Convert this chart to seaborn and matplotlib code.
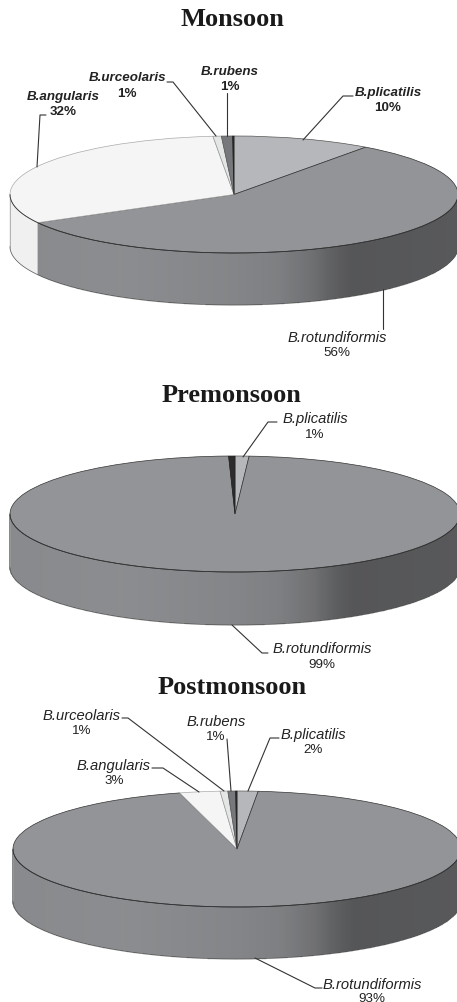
import numpy as np
import matplotlib
matplotlib.use("Agg")
import matplotlib.pyplot as plt
import seaborn as sns

sns.set_theme(style="white")
plt.rcParams["font.family"] = ["Liberation Sans", "DejaVu Sans"]

W, H = 457, 1003

# ---- data ----
seasons = ["Monsoon", "Premonsoon", "Postmonsoon"]
species = ["B.plicatilis", "B.rotundiformis", "B.angularis", "B.urceolaris", "B.rubens", "other"]
monsoon_values = [10, 57, 31.5, 0.6, 0.8, 0.1]
premonsoon_values = [1, 98.55, 0, 0, 0, 0.45]
postmonsoon_values = [1.5, 93.9, 2.9, 0.55, 0.55, 0.1]
monsoon_labels = ["10%", "56%", "32%", "1%", "1%", None]
premonsoon_labels = ["1%", "99%", None, None, None, None]
postmonsoon_labels = ["2%", "93%", "3%", "1%", "1%", None]

# ---- styles ----
slice_colors = ["#b6b7ba", "#939497", "#f5f5f5", "#e4e5e5", "#77787b", "#2c2c2e"]
edge_colors = ["#555555", "#333333", "#aaaaaa", "#999999", "#555555", "#222222"]
shade_pos = [-1, -0.5, 0, 0.2, 0.35, 0.45, 0.53, 1]
shade_val = [0.93, 0.95, 0.90, 0.86, 0.76, 0.64, 0.58, 0.60]

# ---- layout (pixels) ----
geometry = {  # cx, cy, rx, ry, depth
    "Monsoon": (234, 195.5, 224, 58.5, 52),
    "Premonsoon": (235, 515, 225, 58, 53),
    "Postmonsoon": (237, 850, 224, 58, 52),
}
title_pos = {"Monsoon": (232, 19), "Premonsoon": (232, 395), "Postmonsoon": (232, 688)}
leaders = {
    "Monsoon": {
        "B.plicatilis": [(303, 141), (343, 97), (353, 97)],
        "B.rubens": [(227, 137), (227, 94)],
        "B.urceolaris": [(216, 137), (173, 83), (167, 83)],
        "B.angularis": [(37, 168), (40, 116), (46, 116)],
        "B.rotundiformis": [(383, 290), (383, 330)],
    },
    "Premonsoon": {
        "B.plicatilis": [(243, 458), (268, 423), (277, 423)],
        "B.rotundiformis": [(232, 626), (262, 654), (268, 654)],
    },
    "Postmonsoon": {
        "B.urceolaris": [(224, 792), (128, 719), (122, 719)],
        "B.angularis": [(199, 793), (163, 769), (152, 769)],
        "B.rubens": [(231, 792), (227, 740)],
        "B.plicatilis": [(248, 792), (270, 739), (279, 739)],
        "B.rotundiformis": [(255, 959), (315, 989), (322, 989)],
    },
}
label_pos = {  # name centre, percent centre
    "Monsoon": {
        "B.plicatilis": ((388, 93), (388, 108)),
        "B.rubens": ((230, 72), (230, 87)),
        "B.urceolaris": ((127.5, 78), (127, 94)),
        "B.angularis": ((63, 97), (63, 112)),
        "B.rotundiformis": ((337, 338), (337, 353)),
    },
    "Premonsoon": {
        "B.plicatilis": ((315, 419), (315, 435)),
        "B.rotundiformis": ((322, 649), (322, 665)),
    },
    "Postmonsoon": {
        "B.urceolaris": ((82, 716), (82, 731)),
        "B.angularis": ((114, 766), (114, 781)),
        "B.rubens": ((216, 722), (216, 737)),
        "B.plicatilis": ((313, 735), (313, 750)),
        "B.rotundiformis": ((372, 985), (372, 999)),
    },
}
values_by_season = dict(zip(seasons, [monsoon_values, premonsoon_values, postmonsoon_values]))
labels_by_season = dict(zip(seasons, [monsoon_labels, premonsoon_labels, postmonsoon_labels]))

fig = plt.figure(figsize=(W / 100, H / 100), dpi=100, facecolor="white")


def draw_pie(season):
    cx, cy, rx, ry, depth = geometry[season]
    vals = np.array(values_by_season[season], dtype=float)
    ax = fig.add_axes([0, 0, 1, 1], facecolor="none")
    wedges, _ = ax.pie(vals, colors=slice_colors, startangle=90, counterclock=False,
                       wedgeprops=dict(linewidth=0.5))
    for w, e, v in zip(wedges, edge_colors, vals):
        w.set_edgecolor(e)
        w.set_zorder(3)
        if v == 0:
            w.set_visible(False)
    ax.set_aspect("auto")
    ax.set_xlim((0 - cx) / rx, (W - cx) / rx)
    ax.set_ylim((cy - H) / ry, cy / ry)
    ax.axis("off")

    # side wall, coloured by the slice on the front rim
    d = depth / ry
    phi = np.linspace(np.pi, 2 * np.pi, 601)
    xs = np.cos(phi)
    ys = np.sin(phi)
    X = np.vstack([xs, xs])
    Y = np.vstack([ys, ys - d])
    mid = 0.5 * (phi[:-1] + phi[1:])
    frac = (np.pi / 2 - mid) % (2 * np.pi) / (2 * np.pi)
    cum = np.cumsum(vals) / vals.sum()
    idx = np.clip(np.searchsorted(cum, frac), 0, len(vals) - 1)
    rgb = np.array(sns.color_palette(slice_colors))[idx]
    f = np.interp(np.cos(mid), shade_pos, shade_val)
    light = rgb.mean(axis=1) > 0.8
    f = np.where(light, 1 - (1 - f) * 0.3, f)
    C = (rgb * f[:, None])[None, :, :]
    ax.pcolormesh(X, Y, C, shading="flat", antialiased=True, edgecolors="face",
                  linewidth=0.2, zorder=1)
    ax.plot(xs, ys - d, color="#555555", lw=0.5, zorder=2)
    ax.plot(xs, ys, color="#333333", lw=0.6, zorder=4)
    ax.plot([-1, -1], [0, -d], color="#999999", lw=0.5, zorder=2)


for s in seasons:
    draw_pie(s)

# overlay in pixel coordinates for titles, leaders and labels
ov = fig.add_axes([0, 0, 1, 1], facecolor="none")
ov.set_xlim(0, W)
ov.set_ylim(H, 0)
ov.axis("off")

for s in seasons:
    x, y = title_pos[s]
    ov.text(x, y, s, family=["Liberation Serif"], weight="bold", fontsize=19,
            color="#1a1a1a", ha="center", va="center")
    bold = s == "Monsoon"
    for name, pts in leaders[s].items():
        p = np.array(pts)
        ov.plot(p[:, 0], p[:, 1], color="#333333", lw=0.8, zorder=6)
        i = species.index(name)
        (nx, ny), (px, py) = label_pos[s][name]
        is_bold = bold and name != "B.rotundiformis"
        ov.text(nx, ny, name, style="italic", weight="bold" if is_bold else "normal",
                fontsize=9.6 if is_bold else 10.6, color="#222222",
                ha="center", va="center", zorder=7)
        ov.text(px, py, labels_by_season[s][i], weight="bold" if is_bold else "normal",
                fontsize=9.6, color="#222222", ha="center", va="center", zorder=7)

fig.savefig("out.png", dpi=100, facecolor="white")
